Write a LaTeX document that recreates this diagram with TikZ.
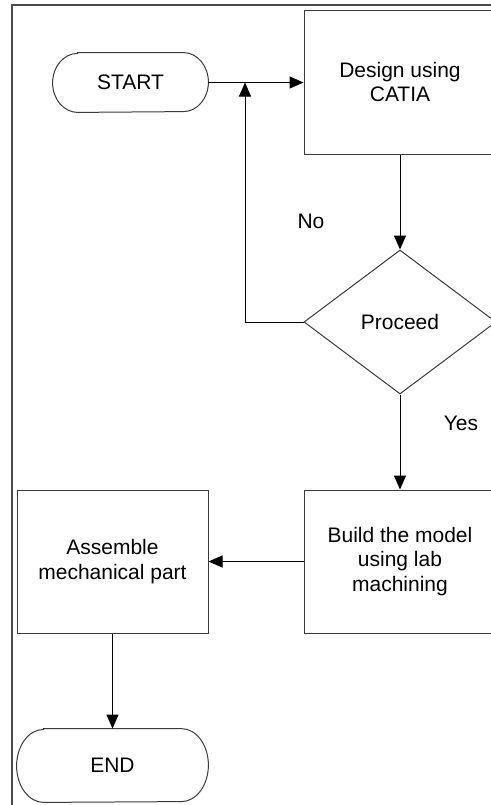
\documentclass[tikz,border=0pt]{standalone}
\usepackage{fontspec}
\setmainfont{Liberation Sans}
\usetikzlibrary{arrows.meta,shapes.geometric}
\definecolor{linegray}{HTML}{3A3A3A}
\definecolor{framegray}{HTML}{4A4A4A}
\tikzset{
  flowbox/.style={draw=linegray, line width=0.5pt, rectangle, inner sep=0pt,
    align=center, font=\fontsize{10.5pt}{12.4pt}\selectfont},
  termbox/.style={rectangle, inner sep=0pt, align=center,
    font=\fontsize{10.5pt}{12.4pt}\selectfont},
  decide/.style={draw=linegray, line width=0.5pt, diamond, inner sep=0pt,
    minimum width=96pt, minimum height=72pt, font=\fontsize{10.5pt}{12.4pt}\selectfont},
  flowarrow/.style={draw=black, line width=0.5pt, -{Triangle[length=7pt,width=6pt]}},
  flowline/.style={draw=black, line width=0.5pt},
  tag/.style={font=\fontsize{10.5pt}{12.4pt}\selectfont, inner sep=0pt},
  pageframe/.style={draw=framegray, line width=0.9pt}
}
\begin{document}
\begin{tikzpicture}[x=0.5pt, y=-0.5pt]
  \useasboundingbox (0,0) rectangle (491,805);
  \clip (0,0) rectangle (491,805);
  \fill[white] (0,0) rectangle (491,805);

  % page frame
  \draw[pageframe] (12,5) rectangle (700,1000);

  % terminals (capsules drawn around invisible nodes)
  \node[termbox, minimum width=77.5pt, minimum height=29.5pt] (start) at (130.5,82.5) {START};
  \draw[linegray, line width=0.5pt]
    ([xshift=12.5pt]start.north west) -- ([xshift=-12.5pt]start.north east)
    arc[start angle=90, end angle=-90, x radius=12.5pt, y radius=14.75pt]
    -- ([xshift=12.5pt]start.south west)
    arc[start angle=270, end angle=90, x radius=12.5pt, y radius=14.75pt] -- cycle;

  \node[termbox, minimum width=95.5pt, minimum height=36.5pt] (finish) at (112.5,765.5) {END};
  \draw[linegray, line width=0.5pt]
    ([xshift=13.5pt]finish.north west) -- ([xshift=-13.5pt]finish.north east)
    arc[start angle=90, end angle=-90, x radius=13.5pt, y radius=18.25pt]
    -- ([xshift=13.5pt]finish.south west)
    arc[start angle=270, end angle=90, x radius=13.5pt, y radius=18.25pt] -- cycle;

  % process boxes
  \node[flowbox, minimum width=96pt, minimum height=72pt] (design) at (400,82) {Design using\\CATIA};
  \node[decide] (proceed) at (400,322) {Proceed};
  \node[flowbox, minimum width=96pt, minimum height=71.5pt] (build) at (400,561.5) {Build the model\\using lab\\machining};
  \node[flowbox, minimum width=95.5pt, minimum height=71.5pt] (assemble) at (112.5,561.5) {Assemble\\mechanical part};

  % connectors
  \coordinate (loopjoin) at (245,82.5);
  \draw[flowarrow] (start.east) -- (design.west |- start.east);
  \draw[flowarrow] (design.south) -- (proceed.north);
  \draw[flowarrow] (proceed.west) -| (loopjoin);
  \draw[flowarrow] (proceed.south) -- (build.north);
  \draw[flowarrow] (build.west) -- (assemble.east);
  \draw[flowarrow] (assemble.south) -- (finish.north);

  % branch labels
  \node[tag] (nolabel) at (311,221) {No};
  \node[tag] (yeslabel) at (461,423) {Yes};
\end{tikzpicture}
\end{document}
